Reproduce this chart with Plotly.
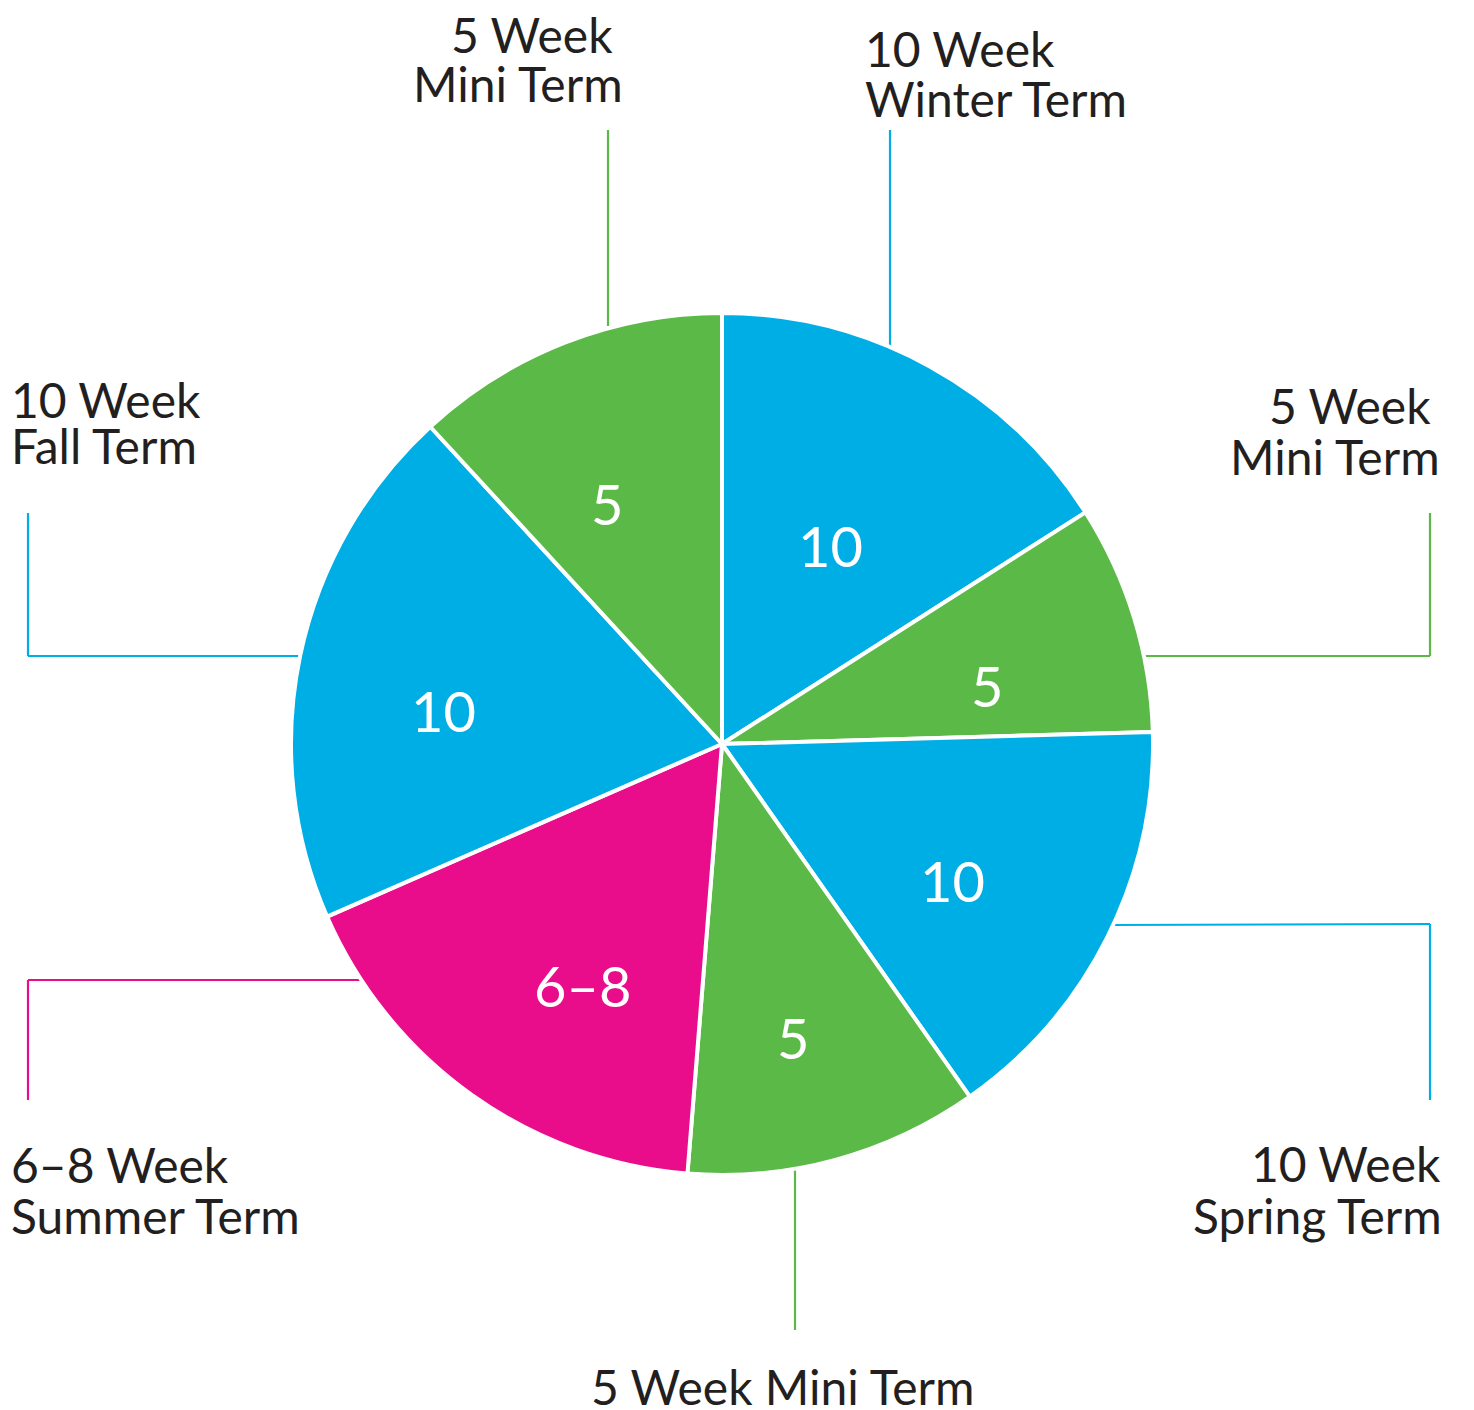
import plotly.graph_objects as go

# ---- data ----
slice_names = ["10 Week Winter Term", "5 Week Mini Term", "10 Week Spring Term",
               "5 Week Mini Term", "6–8 Week Summer Term", "10 Week Fall Term",
               "5 Week Mini Term"]
slice_text = ["10", "5", "10", "5", "6–8", "10", "5"]
slice_angle = [57.5, 30.9, 56.5, 39.7, 61.8, 71.0, 42.6]   # degrees of arc as drawn
slice_color = ["#00AEE6", "#5BB947", "#00AEE6", "#5BB947", "#E90C8B", "#00AEE6", "#5BB947"]

# in-slice label positions (page pixels)
slice_text_x = [830, 987, 952, 793, 582, 443, 607]
slice_text_y = [545, 685, 880, 1037, 985, 710, 503]

# outer label lines (text, x, y, anchor)
label_lines = [
    ("5 Week", 532, 34, "center"), ("Mini Term", 518, 83, "center"),
    ("10 Week", 863, 48, "left"), ("Winter Term", 863, 98, "left"),
    ("10 Week", 9, 399, "left"), ("Fall Term", 9, 445, "left"),
    ("5 Week", 1350, 405, "center"), ("Mini Term", 1335, 456, "center"),
    ("6–8 Week", 9, 1164, "left"), ("Summer Term", 9, 1215, "left"),
    ("10 Week", 1346, 1163, "center"), ("Spring Term", 1317, 1215, "center"),
    ("5 Week Mini Term", 783, 1386, "center"),
]

# leader line paths (page pixels) and colours
leaders = [
    ([(608, 130), (608, 326)], "#5BB947"),
    ([(890, 130), (890, 348)], "#00AEE6"),
    ([(28, 513), (28, 656), (308, 656)], "#00AEE6"),
    ([(1430, 513), (1430, 656), (1140, 656)], "#5BB947"),
    ([(1108, 925), (1430, 924), (1430, 1100)], "#00AEE6"),
    ([(795, 1170), (795, 1330)], "#5BB947"),
    ([(372, 980), (28, 980), (28, 1100)], "#E90C8B"),
]

W, H = 1474, 1410
OFF = 8  # page body margin
cx, cy, r = 722, 744, 431

fig = go.Figure()
fig.add_trace(go.Pie(
    labels=[f"{n} {i}" for i, n in enumerate(slice_names)],
    values=slice_angle,
    textinfo="none",
    marker=dict(colors=slice_color, line=dict(color="white", width=4)),
    sort=False,
    direction="clockwise",
    rotation=0,
    hoverinfo="skip",
    showlegend=False,
    domain=dict(x=[(cx - OFF - r) / W, (cx - OFF + r) / W],
                y=[(H - (cy - OFF) - r) / H, (H - (cy - OFF) + r) / H]),
))

# helper scatter to set up pixel axes
fig.add_trace(go.Scatter(x=[OFF, W], y=[OFF, H], mode="markers",
                         marker=dict(opacity=0), hoverinfo="skip", showlegend=False))

for pts, col in leaders:
    for (x0, y0), (x1, y1) in zip(pts[:-1], pts[1:]):
        fig.add_shape(type="line", x0=x0, y0=y0, x1=x1, y1=y1, xref="x", yref="y",
                      line=dict(color=col, width=2.2), layer="below")

for txt, x, y in zip(slice_text, slice_text_x, slice_text_y):
    fig.add_annotation(text=txt, x=x, y=y, xref="x", yref="y", xanchor="center", yanchor="middle",
                       showarrow=False, font=dict(family="Lato", size=56, color="white"))

for txt, x, y, anc in label_lines:
    fig.add_annotation(text=txt, x=x, y=y, xref="x", yref="y", xanchor=anc, yanchor="middle",
                       showarrow=False, font=dict(family="Lato", size=48, color="#231F20"))

fig.update_layout(
    width=W, height=H, margin=dict(l=0, r=0, t=0, b=0),
    paper_bgcolor="white", plot_bgcolor="rgba(0,0,0,0)",
    xaxis=dict(range=[OFF, W + OFF], visible=False, fixedrange=True),
    yaxis=dict(range=[H + OFF, OFF], visible=False, fixedrange=True),
)

fig.write_html("out.html")
